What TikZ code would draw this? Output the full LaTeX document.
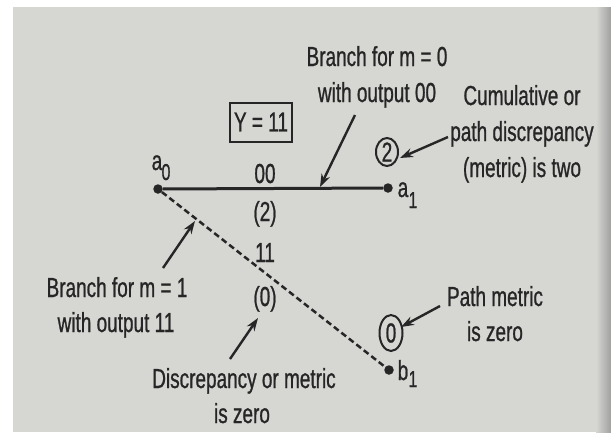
\documentclass[tikz,border=0pt]{standalone}
\usepackage{fontspec}
\setmainfont[FakeStretch=0.69,FakeBold=0.8]{Liberation Sans}
\usetikzlibrary{arrows.meta,shapes.geometric}
\definecolor{paper}{RGB}{214,214,211}
\definecolor{edge}{RGB}{160,160,158}
\definecolor{ink}{RGB}{38,38,38}
\begin{document}
\begin{tikzpicture}[x=1pt,y=-1pt,
  lbl/.style={font=\fontsize{27.5}{30}\selectfont, text=ink, inner sep=0pt, anchor=base},
  sub/.style={font=\fontsize{23}{26}\selectfont, text=ink, inner sep=0pt, anchor=base},
  dot/.style={circle, fill=ink, inner sep=0pt, minimum size=9.5pt},
  arr/.style={draw=ink, line width=2.4pt, -{Stealth[length=13pt,width=9pt]}},
  ring/.style={ellipse, draw=ink, line width=2pt, inner sep=0pt, text=ink, font=\fontsize{27.5}{30}\selectfont},
  solidbr/.style={draw=ink, line width=3pt},
  dashbr/.style={draw=ink, line width=2.5pt, dash pattern=on 6pt off 3.5pt}]
\useasboundingbox (0,0) rectangle (611,437);
\fill[white] (0,0) rectangle (611,437);
\fill[paper] (13,7) rectangle (611,432);
\shade[left color=paper, right color=edge] (596,7) rectangle (611,432);

% trellis nodes
\node[dot] (a0) at (158,189) {};
\node[dot] (a1) at (388,188) {};
\node[dot] (b1) at (389,370) {};
\node[lbl] (a0l) at (157,170) {a};
\node[sub] (a0s) at (166,180) {0};
\node[lbl] (a1l) at (403,197) {a};
\node[sub] (a1s) at (413,208) {1};
\node[lbl] (b1l) at (403,380) {b};
\node[sub] (b1s) at (413,387) {1};

% branches
\draw[solidbr] (a0) -- (a1);
\draw[dashbr] (a0) -- (b1);

% branch labels
\node[lbl] (o00) at (265,183) {00};
\node[lbl] (m2) at (265,221) {(2)};
\node[lbl] (o11) at (265,262) {11};
\node[lbl] (m0) at (265,306) {(0)};

% received word
\node[draw=ink, line width=2pt, font=\fontsize{27.5}{30}\selectfont, text=ink,
      minimum width=62pt, minimum height=39pt, inner sep=0pt] (Y) at (261,122) {Y = 11};

% path metrics
\node[ring, minimum width=22pt, minimum height=28pt] (c2) at (387,152) {2};
\node[ring, minimum width=23pt, minimum height=36pt] (c0) at (391,333) {0};

% annotations
\node[lbl] (t1a) at (377,66) {Branch for m = 0};
\node[lbl] (t1b) at (377,102) {with output 00};
\node[lbl] (t2a) at (522,105) {Cumulative or};
\node[lbl] (t2b) at (522,141) {path discrepancy};
\node[lbl] (t2c) at (522,177) {(metric) is two};
\node[lbl] (t3a) at (117,297) {Branch for m = 1};
\node[lbl] (t3b) at (116,332) {with output 11};
\node[lbl] (t4a) at (244,388) {Discrepancy or metric};
\node[lbl] (t4b) at (242,423) {is zero};
\node[lbl] (t5a) at (495,306) {Path metric};
\node[lbl] (t5b) at (495,341) {is zero};

% arrows
\coordinate (p1) at (355,115); \coordinate (q1) at (320,187);
\coordinate (p2) at (448,137); \coordinate (q2) at (400,158);
\coordinate (p3) at (163,268); \coordinate (q3) at (195,221);
\coordinate (p4) at (230,359); \coordinate (q4) at (258,318);
\coordinate (p5) at (440,306); \coordinate (q5) at (401,327);
\draw[arr] (p1) -- (q1);
\draw[arr] (p2) -- (q2);
\draw[arr] (p3) -- (q3);
\draw[arr] (p4) -- (q4);
\draw[arr] (p5) -- (q5);
\end{tikzpicture}
\end{document}
